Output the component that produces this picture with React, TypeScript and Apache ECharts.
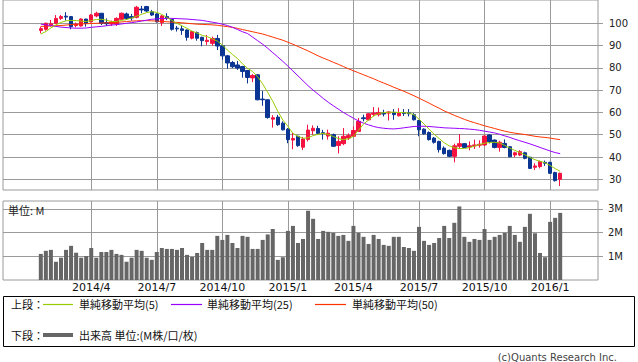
import React, { useEffect, useRef } from "react";
import * as echarts from "echarts";

// ---- data (weekly, first week 2014-01-27) ----
const FIRST_WEEK_UTC = Date.UTC(2014, 0, 27);
const PAD_WEEKS = 7;

const opens = [96.8, 97.3, 99.3, 100.0, 102.2, 103.2, 103.0, 99.0, 98.8, 101.9,
  100.7, 103.3, 104.5, 100.3, 99.7, 99.7, 101.8, 104.2, 103.0, 102.7,
  106.4, 107.5, 105.2, 104.2, 100.3, 103.0, 101.8, 97.8, 97.5, 97.0,
  93.3, 95.8, 93.7, 91.8, 91.0, 93.2, 89.9, 85.4, 82.4, 81.3,
  80.6, 78.8, 75.5, 76.9, 66.0, 65.7, 57.0, 57.9, 55.2, 52.5,
  47.6, 49.3, 44.4, 47.9, 51.8, 52.8, 50.9, 49.4, 50.0, 45.2,
  46.0, 48.5, 49.3, 51.5, 57.6, 56.7, 59.2, 59.0, 59.6, 59.7,
  60.0, 58.5, 59.8, 59.8, 59.0, 56.4, 52.5, 51.0, 48.5, 47.0,
  44.0, 43.0, 40.3, 44.8, 46.0, 44.5, 45.0, 45.3, 45.4, 49.9,
  47.6, 44.3, 46.1, 44.6, 40.9, 40.9, 41.9, 39.9, 35.4, 35.7,
  37.6, 37.6, 33.0, 30.0];
const closes = [97.6, 100.0, 99.8, 102.2, 103.0, 102.8, 98.5, 99.7, 101.9, 100.0,
  103.7, 104.5, 100.0, 99.8, 100.6, 102.2, 104.5, 102.2, 102.4, 107.2,
  106.0, 105.5, 103.7, 100.7, 103.3, 102.2, 97.3, 97.5, 96.8, 93.7,
  96.3, 93.3, 92.2, 92.4, 93.2, 89.8, 85.4, 82.2, 80.5, 79.9,
  78.4, 75.7, 76.6, 65.7, 65.7, 57.7, 57.6, 54.5, 52.2, 47.8,
  48.3, 45.1, 48.1, 52.1, 52.9, 50.6, 50.6, 50.7, 44.8, 47.0,
  49.3, 49.6, 51.9, 56.0, 57.2, 59.4, 59.7, 60.0, 59.3, 60.2,
  59.0, 59.7, 59.5, 59.4, 56.7, 52.2, 50.4, 47.8, 46.6, 43.3,
  41.5, 40.3, 45.0, 46.0, 44.3, 45.0, 45.4, 45.7, 49.4, 46.9,
  44.3, 46.6, 44.3, 40.1, 41.9, 42.4, 39.4, 34.9, 36.0, 37.9,
  37.2, 32.7, 29.4, 32.7];
const lows = [95.5, 96.7, 98.5, 99.7, 101.5, 101.2, 97.3, 98.2, 98.5, 98.5,
  100.3, 102.7, 99.2, 98.8, 98.8, 98.8, 101.5, 101.5, 101.2, 102.2,
  104.5, 105.0, 103.3, 100.3, 98.8, 101.5, 96.7, 96.3, 94.8, 92.2,
  92.8, 92.2, 89.7, 90.3, 90.0, 88.0, 83.6, 79.6, 79.9, 79.1,
  75.6, 73.0, 73.6, 65.4, 63.0, 57.2, 53.2, 54.0, 51.9, 46.2,
  43.5, 44.6, 43.1, 47.0, 50.0, 50.3, 47.8, 47.8, 44.6, 41.6,
  45.3, 47.6, 49.0, 51.2, 56.0, 56.4, 58.2, 58.2, 58.2, 56.4,
  56.7, 58.2, 58.4, 58.2, 56.4, 49.3, 50.0, 47.4, 46.0, 42.0,
  41.1, 40.0, 37.6, 43.6, 44.0, 43.0, 43.6, 44.2, 44.9, 46.1,
  43.9, 42.4, 43.9, 39.9, 39.9, 40.4, 39.0, 34.6, 34.2, 34.9,
  36.0, 32.4, 29.0, 27.0];
const highs = [98.5, 100.3, 101.5, 103.7, 103.7, 105.0, 103.2, 100.3, 102.2, 102.0,
  104.2, 105.2, 104.6, 102.2, 101.2, 102.7, 104.8, 104.8, 104.2, 107.8,
  107.8, 107.8, 106.0, 104.5, 103.7, 104.5, 101.8, 98.8, 98.8, 97.3,
  96.5, 96.3, 94.0, 94.8, 94.0, 94.8, 90.2, 85.8, 83.1, 83.1,
  80.9, 79.1, 77.2, 77.0, 69.6, 65.8, 58.8, 58.9, 56.0, 53.0,
  50.8, 49.6, 49.0, 54.5, 54.2, 54.0, 52.2, 52.3, 50.5, 49.3,
  53.0, 50.6, 53.7, 57.5, 59.0, 59.7, 62.4, 62.2, 61.2, 60.5,
  61.5, 61.9, 61.5, 61.5, 59.7, 56.7, 52.9, 51.5, 49.0, 47.3,
  44.8, 43.3, 46.0, 50.3, 46.3, 47.0, 47.8, 47.5, 49.9, 50.3,
  47.9, 47.3, 47.9, 44.9, 42.4, 43.1, 42.4, 40.1, 37.2, 38.4,
  38.4, 37.9, 33.4, 33.0];
const volumesM = [1.10, 1.23, 1.27, 0.77, 0.94, 1.27, 1.44, 1.15, 0.94, 1.01,
  1.35, 0.94, 1.18, 1.18, 1.27, 1.10, 1.06, 0.77, 0.94, 1.27,
  1.23, 0.94, 0.85, 1.18, 1.35, 1.31, 1.31, 1.27, 1.35, 1.06,
  0.97, 1.14, 1.56, 1.27, 1.27, 1.86, 1.69, 1.90, 1.56, 1.35,
  1.86, 1.82, 1.31, 1.31, 1.69, 1.92, 2.15, 0.85, 0.96, 2.07,
  2.28, 1.56, 1.73, 2.92, 2.58, 1.73, 2.07, 2.03, 1.99, 1.86,
  1.90, 1.65, 2.28, 1.99, 1.82, 1.52, 1.90, 1.73, 1.48, 1.44,
  1.82, 1.82, 1.39, 1.35, 1.23, 2.24, 1.65, 1.48, 1.56, 1.77,
  2.28, 1.77, 2.41, 3.10, 1.82, 1.61, 1.73, 1.69, 2.15, 1.69,
  1.82, 1.90, 1.99, 2.28, 1.90, 1.61, 2.24, 2.79, 1.97, 1.14,
  0.96, 2.45, 2.62, 2.83];
const ma5 = [95.2, 96.3, 97.9, 99.3, 100.4, 101.1, 101.3, 101.2, 101.0, 100.8,
  101.2, 101.7, 101.8, 101.4, 100.8, 100.8, 101.3, 101.7, 102.4, 103.2,
  104.0, 104.8, 105.2, 104.9, 104.0, 102.6, 101.3, 100.0, 98.9, 97.7,
  96.5, 95.6, 94.6, 94.0, 93.0, 92.0, 90.3, 88.0, 86.0, 84.2,
  81.8, 79.8, 78.4, 76.0, 72.8, 69.0, 65.0, 60.5, 56.6, 53.8,
  50.6, 49.3, 48.4, 48.6, 49.6, 50.2, 50.6, 50.1, 49.2, 48.3,
  47.8, 48.2, 49.3, 52.0, 54.8, 56.6, 58.4, 59.5, 59.9, 60.1,
  60.1, 60.0, 59.9, 59.7, 59.0, 57.0, 54.8, 52.5, 50.2, 48.3,
  46.4, 45.0, 44.2, 43.8, 43.8, 44.2, 44.9, 45.6, 46.2, 46.5,
  46.6, 46.3, 45.2, 44.0, 43.0, 42.0, 41.0, 39.8, 38.8, 38.1,
  37.4, 36.2, 34.8, 33.6];
const ma25 = [99.6, 99.3, 99.0, 98.6, 98.3, 98.1, 97.9, 97.8, 97.8, 97.9,
  98.2, 98.4, 98.6, 98.9, 99.2, 99.4, 99.7, 100.0, 100.3, 100.6,
  101.0, 101.4, 101.8, 102.0, 102.2, 102.2, 102.2, 102.1, 102.0, 101.9,
  101.7, 101.5, 101.3, 100.9, 100.5, 100.1, 99.6, 99.0, 98.2, 97.2,
  96.2, 95.4, 93.8, 92.2, 90.6, 88.8, 86.8, 84.9, 82.9, 80.8,
  78.6, 76.4, 74.2, 72.0, 70.0, 68.2, 66.3, 64.6, 63.0, 61.5,
  60.0, 58.7, 57.4, 56.2, 55.2, 54.4, 53.7, 53.2, 52.9, 52.7,
  52.6, 52.8, 53.1, 53.4, 53.7, 53.8, 53.8, 53.7, 53.5, 53.3,
  53.1, 53.0, 52.9, 52.8, 52.7, 52.5, 52.3, 52.0, 51.6, 51.2,
  50.8, 50.2, 49.5, 48.8, 48.0, 47.3, 46.6, 45.9, 45.1, 44.3,
  43.5, 42.7, 42.0, 41.5];
const ma50 = [98.6, 98.7, 98.8, 98.9, 99.0, 99.2, 99.4, 99.5, 99.7, 99.8,
  99.9, 100.0, 100.1, 100.2, 100.3, 100.4, 100.6, 100.8, 101.0, 101.1,
  101.2, 101.2, 101.1, 101.0, 100.8, 100.7, 100.5, 100.4, 100.2, 100.0,
  99.8, 99.6, 99.5, 99.4, 99.3, 99.1, 98.8, 98.5, 98.2, 97.7,
  97.2, 96.7, 96.2, 95.7, 95.2, 94.5, 93.8, 93.1, 92.4, 91.5,
  90.6, 89.6, 88.6, 87.6, 86.5, 85.4, 84.4, 83.5, 82.5, 81.6,
  80.6, 79.6, 78.7, 77.8, 76.9, 76.0, 75.1, 74.1, 73.2, 72.3,
  71.3, 70.4, 69.5, 68.5, 67.5, 66.4, 65.3, 64.2, 63.0, 61.9,
  60.7, 59.7, 58.7, 57.8, 56.9, 56.1, 55.4, 54.7, 54.0, 53.4,
  52.8, 52.2, 51.6, 51.1, 50.7, 50.4, 50.1, 49.7, 49.3, 49.0,
  48.8, 48.5, 48.1, 47.8];

const priceTicks = [30, 40, 50, 60, 70, 80, 90, 100];
const volumeTicks = [1, 2, 3];
const quarterMonths = [1, 4, 7, 10];

const legendUpperLabel = "上段：";
const legendLowerLabel = "下段：";
const maLabels = ["単純移動平均(5)", "単純移動平均(25)", "単純移動平均(50)"];
const volumeLegendLabel = "出来高 単位:(M株/口/枚)";
const volumeUnitLabel = "単位: M";
const copyrightLabel = "(c)Quants Research Inc.";

// ---- styles ----
const UP = "#f41240";
const DOWN = "#0b3592";
const MA_COLORS = ["#99cc00", "#9900ff", "#ff3300"];
const GRID_COLOR = "#9a9a9a";
const VOL_COLOR = "#666666";
const CJK = '"Noto Sans CJK JP", "Noto Sans", sans-serif';

const N = opens.length;
const WEEK_MS = 7 * 24 * 3600 * 1000;
const categories = Array.from({ length: N + 2 * PAD_WEEKS }, (_, k) => {
  const d = new Date(FIRST_WEEK_UTC + (k - PAD_WEEKS) * WEEK_MS);
  return `${d.getUTCFullYear()}/${d.getUTCMonth() + 1}/${d.getUTCDate()}`;
});
const isQuarterStart = (k: number) => {
  if (k < PAD_WEEKS || k >= PAD_WEEKS + N) return false;
  const [, m, d] = categories[k].split("/").map(Number);
  return quarterMonths.includes(m) && d <= 7;
};
const padded = (arr: number[]) => [
  ...Array(PAD_WEEKS).fill("-"),
  ...arr,
  ...Array(PAD_WEEKS).fill("-"),
];
const candleData = categories.map((_, k) => {
  const i = k - PAD_WEEKS;
  return i >= 0 && i < N ? [opens[i], closes[i], lows[i], highs[i]] : ["-", "-", "-", "-"];
});

export default function App() {
  const ref = useRef<HTMLDivElement>(null);
  useEffect(() => {
    if (!ref.current) return;
    const chart = echarts.init(ref.current, undefined, { renderer: "svg" });
    const quarterInterval = (index: number) => isQuarterStart(index);
    const xSplit = {
      show: true,
      interval: quarterInterval,
      alignWithLabel: true,
      lineStyle: { color: GRID_COLOR, width: 1 },
    };
    const maSeries = [ma50, ma25, ma5].map((arr, j) => ({
      type: "line",
      xAxisIndex: 0,
      yAxisIndex: 0,
      data: padded(arr),
      showSymbol: false,
      symbol: "none",
      silent: true,
      lineStyle: { color: MA_COLORS[2 - j], width: 1 },
      z: 3 + j,
    }));
    const legendY1 = 303.5;
    const legendLineY1 = 304.5;
    const legendY2 = 335;
    const maLegendX = [
      [43, 73, 79],
      [171, 202, 207],
      [315, 346, 352],
    ];
    const graphics: any[] = [
      {
        type: "text",
        x: 8,
        y: 210,
        style: { text: volumeUnitLabel, font: `11px ${CJK}`, fill: "#222", verticalAlign: "middle" },
        z: 10,
      },
      {
        type: "rect",
        shape: { x: 3.5, y: 296.5, width: 631, height: 50 },
        style: { fill: "none", stroke: "#000", lineWidth: 1 },
      },
      {
        type: "text",
        x: 11,
        y: legendY1,
        style: { text: legendUpperLabel, font: `11px ${CJK}`, fill: "#111", verticalAlign: "middle" },
      },
      {
        type: "text",
        x: 11,
        y: legendY2,
        style: { text: legendLowerLabel, font: `11px ${CJK}`, fill: "#111", verticalAlign: "middle" },
      },
      {
        type: "line",
        shape: { x1: 43, y1: legendY2, x2: 73, y2: legendY2 },
        style: { stroke: VOL_COLOR, lineWidth: 4 },
      },
      {
        type: "text",
        x: 79,
        y: legendY2,
        style: { text: volumeLegendLabel, font: `11px ${CJK}`, fill: "#111", verticalAlign: "middle" },
      },
      {
        type: "text",
        x: 617,
        y: 357,
        style: {
          text: copyrightLabel,
          font: '10px "DejaVu Sans", sans-serif',
          fill: "#444",
          align: "right",
          verticalAlign: "middle",
        },
      },
    ];
    maLabels.forEach((label, j) => {
      const [x1, x2, tx] = maLegendX[j];
      graphics.push({
        type: "line",
        shape: { x1, y1: legendLineY1, x2, y2: legendLineY1 },
        style: { stroke: MA_COLORS[j], lineWidth: 1.2 },
      });
      graphics.push({
        type: "text",
        x: tx,
        y: legendY1,
        style: { text: label, font: `11px ${CJK}`, fill: "#111", verticalAlign: "middle" },
      });
    });

    const option: any = {
      animation: false,
      backgroundColor: "#fff",
      grid: [
        { left: 3, right: 40, top: 0, height: 190, show: true, borderColor: GRID_COLOR, borderWidth: 1 },
        { left: 3, right: 40, top: 201, height: 79, show: true, borderColor: GRID_COLOR, borderWidth: 1 },
      ],
      xAxis: [
        {
          type: "category",
          gridIndex: 0,
          data: categories,
          boundaryGap: true,
          axisLine: { show: false },
          axisTick: { show: false },
          axisLabel: { show: false },
          splitLine: xSplit,
        },
        {
          type: "category",
          gridIndex: 1,
          data: categories,
          boundaryGap: true,
          axisLine: { show: false },
          axisTick: { show: false },
          axisLabel: {
            interval: quarterInterval,
            formatter: (v: string) => v.split("/").slice(0, 2).join("/"),
            color: "#111",
            fontSize: 11,
            fontFamily: '"DejaVu Sans", sans-serif',
            margin: 2,
          },
          splitLine: xSplit,
        },
      ],
      yAxis: [
        {
          type: "value",
          gridIndex: 0,
          position: "right",
          min: 25.2,
          max: 110.45,
          axisLine: { show: false },
          axisTick: { show: true, length: 5, lineStyle: { color: GRID_COLOR }, customValues: priceTicks },
          axisLabel: {
            customValues: priceTicks,
            margin: 11,
            color: "#222",
            fontSize: 10,
            fontFamily: '"DejaVu Sans", sans-serif',
          },
          splitLine: { show: true, lineStyle: { color: GRID_COLOR, width: 1 } },
        },
        {
          type: "value",
          gridIndex: 1,
          position: "right",
          min: 0,
          max: 3.33,
          axisLine: { show: false },
          axisTick: { show: true, length: 5, lineStyle: { color: GRID_COLOR }, customValues: volumeTicks },
          axisLabel: {
            customValues: volumeTicks,
            formatter: (v: number) => `${v}M`,
            margin: 10,
            color: "#222",
            fontSize: 10,
            fontFamily: '"DejaVu Sans", sans-serif',
          },
          splitLine: { show: true, lineStyle: { color: GRID_COLOR, width: 1 } },
        },
      ],
      series: [
        {
          type: "candlestick",
          xAxisIndex: 0,
          yAxisIndex: 0,
          data: candleData,
          barWidth: 4,
          silent: true,
          itemStyle: {
            color: UP,
            color0: DOWN,
            borderColor: UP,
            borderColor0: DOWN,
            borderWidth: 1,
          },
          z: 2,
        },
        ...maSeries,
        {
          type: "bar",
          xAxisIndex: 1,
          yAxisIndex: 1,
          data: padded(volumesM),
          barWidth: 4,
          silent: true,
          itemStyle: { color: VOL_COLOR },
        },
      ],
      graphic: graphics,
    };
    chart.setOption(option);
    return () => chart.dispose();
  }, []);
  return (
    <div
      ref={ref}
      style={{ position: "absolute", left: 0, top: 0, width: 638, height: 362, background: "#fff" }}
    />
  );
}
